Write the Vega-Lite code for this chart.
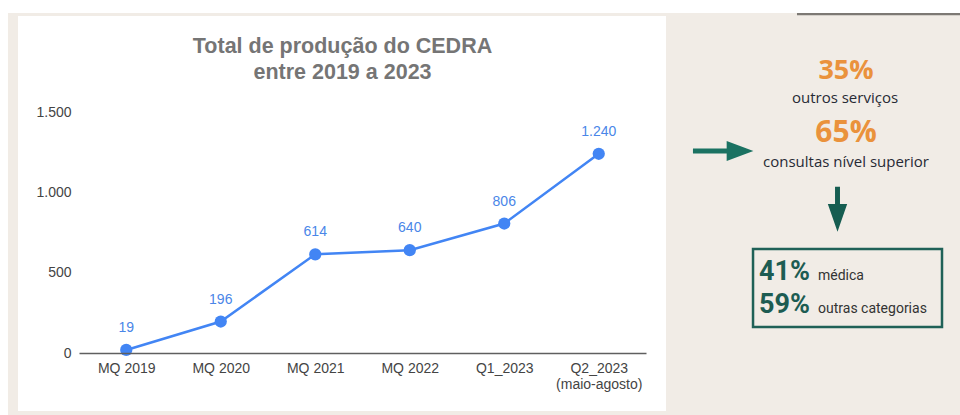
{
  "$schema": "https://vega.github.io/schema/vega-lite/v6.json",
  "width": 567,
  "height": 241,
  "autosize": {"type": "none"},
  "padding": {"left": 79, "top": 112, "right": 314, "bottom": 62},
  "background": "white",
  "title": {
    "text": ["Total de produção do CEDRA", "entre 2019 a 2023"],
    "font": "Liberation Sans, Arial",
    "fontSize": 21.5,
    "fontWeight": "bold",
    "color": "#757575",
    "anchor": "middle",
    "frame": "group",
    "dx": -20,
    "lineHeight": 26,
    "offset": -93,
    "baseline": "bottom"
  },
  "config": {
    "view": {"stroke": null},
    "locale": {"number": {"decimal": ",", "thousands": ".", "grouping": [3], "currency": ["R$", ""]}}
  },
  "datasets": {
    "producao": [
      {"periodo": "MQ 2019", "valor": 19},
      {"periodo": "MQ 2020", "valor": 196},
      {"periodo": "MQ 2021", "valor": 614},
      {"periodo": "MQ 2022", "valor": 640},
      {"periodo": "Q1_2023", "valor": 806},
      {"periodo": "Q2_2023", "valor": 1240}
    ]
  },
  "resolve": {"scale": {"x": "independent", "y": "independent"}},
  "layer": [
    {
      "data": {"values": [{}]},
      "layer": [
        {
          "mark": {"type": "rect", "color": "#f1ece6"},
          "encoding": {
            "x": {"datum": 0.83, "type": "quantitative", "scale": {"domain": [0, 100], "range": [-79, 881], "nice": false, "zero": false}, "axis": null},
            "x2": {"datum": 100},
            "y": {"datum": 96.87, "type": "quantitative", "scale": {"domain": [0, 100], "range": [303, -112], "nice": false, "zero": false}, "axis": null},
            "y2": {"datum": 0}
          }
        },
        {
          "mark": {"type": "rect", "color": "#ffffff"},
          "encoding": {
            "x": {"datum": 1.875, "type": "quantitative", "axis": null},
            "x2": {"datum": 69.375},
            "y": {"datum": 96.14, "type": "quantitative", "axis": null},
            "y2": {"datum": 0.96}
          }
        },
        {
          "mark": {"type": "rect", "color": "#7d7974"},
          "encoding": {
            "x": {"datum": 83.02, "type": "quantitative", "axis": null},
            "x2": {"datum": 100},
            "y": {"datum": 96.87, "type": "quantitative", "axis": null},
            "y2": {"datum": 96.3}
          }
        },
        {
          "mark": {"type": "text", "text": "35%", "font": "Open Sans", "fontWeight": "bold", "fontSize": 27, "color": "#ea923c", "align": "center", "baseline": "alphabetic"},
          "encoding": {
            "x": {"datum": 88.125, "type": "quantitative", "axis": null},
            "y": {"datum": 80.96, "type": "quantitative", "axis": null}
          }
        },
        {
          "mark": {"type": "text", "text": "outros serviços", "font": "Open Sans", "fontSize": 15, "color": "#272a35", "align": "center", "baseline": "alphabetic"},
          "encoding": {
            "x": {"datum": 88.02, "type": "quantitative", "axis": null},
            "y": {"datum": 75.18, "type": "quantitative", "axis": null}
          }
        },
        {
          "mark": {"type": "text", "text": "65%", "font": "Open Sans", "fontWeight": "bold", "fontSize": 30, "color": "#ea923c", "align": "center", "baseline": "alphabetic"},
          "encoding": {
            "x": {"datum": 88.125, "type": "quantitative", "axis": null},
            "y": {"datum": 65.78, "type": "quantitative", "axis": null}
          }
        },
        {
          "mark": {"type": "text", "text": "consultas nível superior", "font": "Open Sans", "fontSize": 15, "color": "#272a35", "align": "center", "baseline": "alphabetic"},
          "encoding": {
            "x": {"datum": 88.125, "type": "quantitative", "axis": null},
            "y": {"datum": 59.76, "type": "quantitative", "axis": null}
          }
        },
        {
          "mark": {"type": "point", "shape": "M-1,-0.083L0.116,-0.083L0.116,-0.33L1,0L0.116,0.33L0.116,0.083L-1,0.083Z", "size": 3650, "filled": true, "color": "#1b7262", "opacity": 1, "strokeWidth": 0},
          "encoding": {
            "x": {"datum": 75.33, "type": "quantitative", "axis": null},
            "y": {"datum": 63.61, "type": "quantitative", "axis": null}
          }
        },
        {
          "mark": {"type": "point", "shape": "M-0.11,-1L0.11,-1L0.11,-0.23L0.43,-0.23L0,1L-0.43,-0.23L-0.11,-0.23Z", "size": 2025, "filled": true, "color": "#165d51", "opacity": 1, "strokeWidth": 0},
          "encoding": {
            "x": {"datum": 87.24, "type": "quantitative", "axis": null},
            "y": {"datum": 49.59, "type": "quantitative", "axis": null}
          }
        },
        {
          "mark": {"type": "rect", "fill": null, "fillOpacity": 0, "stroke": "#1f6157", "strokeWidth": 2.5},
          "encoding": {
            "x": {"datum": 78.44, "type": "quantitative", "axis": null},
            "x2": {"datum": 98.125},
            "y": {"datum": 40.0, "type": "quantitative", "axis": null},
            "y2": {"datum": 21.2}
          }
        },
        {
          "mark": {"type": "text", "text": "41%", "font": "Roboto", "fontWeight": "bold", "fontSize": 27, "color": "#1d5c52", "align": "left", "baseline": "alphabetic"},
          "encoding": {
            "x": {"datum": 79.06, "type": "quantitative", "axis": null},
            "y": {"datum": 32.53, "type": "quantitative", "axis": null}
          }
        },
        {
          "mark": {"type": "text", "text": "médica", "font": "Roboto", "fontSize": 14, "color": "#333333", "align": "left", "baseline": "alphabetic"},
          "encoding": {
            "x": {"datum": 85.21, "type": "quantitative", "axis": null},
            "y": {"datum": 32.53, "type": "quantitative", "axis": null}
          }
        },
        {
          "mark": {"type": "text", "text": "59%", "font": "Roboto", "fontWeight": "bold", "fontSize": 27, "color": "#1d5c52", "align": "left", "baseline": "alphabetic"},
          "encoding": {
            "x": {"datum": 79.06, "type": "quantitative", "axis": null},
            "y": {"datum": 24.58, "type": "quantitative", "axis": null}
          }
        },
        {
          "mark": {"type": "text", "text": "outras categorias", "font": "Roboto", "fontSize": 14, "color": "#333333", "align": "left", "baseline": "alphabetic"},
          "encoding": {
            "x": {"datum": 85.21, "type": "quantitative", "axis": null},
            "y": {"datum": 24.58, "type": "quantitative", "axis": null}
          }
        }
      ]
    },
    {
      "data": {"name": "producao"},
      "encoding": {
        "x": {
          "field": "periodo",
          "type": "nominal",
          "sort": null,
          "scale": {"type": "point", "padding": 0.5},
          "axis": {
            "title": null,
            "labelAngle": 0,
            "ticks": false,
            "grid": false,
            "labelPadding": 8,
            "domainColor": "#5f5f5f",
            "domainWidth": 1.5,
            "labelFont": "Liberation Sans, Arial",
            "labelFontSize": 14,
            "labelColor": "#444444",
            "labelLineHeight": 16,
            "labelExpr": "datum.value == 'Q2_2023' ? ['Q2_2023', '(maio-agosto)'] : datum.value",
            "zindex": 1
          }
        },
        "y": {
          "field": "valor",
          "type": "quantitative",
          "scale": {"domain": [0, 1500], "nice": false},
          "axis": {
            "title": null,
            "values": [0, 500, 1000, 1500],
            "format": ",d",
            "domain": false,
            "ticks": false,
            "labelPadding": 8,
            "gridColor": "#d6d6d6",
            "labelFont": "Liberation Sans, Arial",
            "labelFontSize": 14,
            "labelColor": "#444444",
            "zindex": 1
          }
        }
      },
      "layer": [
        {"mark": {"type": "line", "color": "#4285f4", "strokeWidth": 2.5}},
        {"mark": {"type": "point", "filled": true, "size": 150, "color": "#4285f4", "opacity": 1}},
        {
          "mark": {"type": "text", "color": "#4a86e8", "fontSize": 14, "font": "Liberation Sans, Arial", "dy": -18, "baseline": "alphabetic"},
          "encoding": {"text": {"field": "valor", "type": "quantitative", "format": ",d"}}
        }
      ]
    }
  ]
}
